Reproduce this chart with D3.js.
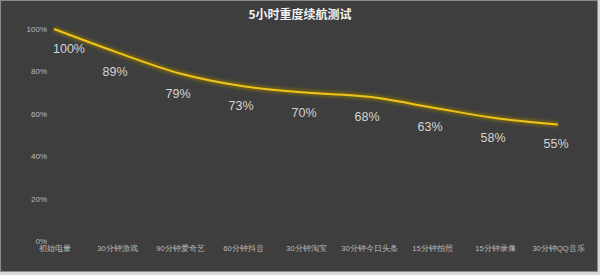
<!DOCTYPE html>
<html>
  <head>
    <meta charset="utf-8">
    <title>5小时重度续航测试</title>
    <script src="https://d3js.org/d3.v7.min.js"></script>
    <style>
      body { margin: 0; background: #d8d8d8; }
      svg { display: block; font-family: "Noto Sans CJK SC", "Liberation Sans", sans-serif; }
    </style>
  </head>
  <body>
    <svg id="chart" width="600" height="275"></svg>
    <script>
      // data
      var categories = ["初始电量", "30分钟游戏", "90分钟爱奇艺", "60分钟抖音", "30分钟淘宝",
                        "30分钟今日头条", "15分钟拍照", "15分钟录像", "30分钟QQ音乐"];
      var battery = [100, 89, 79, 73, 70, 68, 63, 58, 55];
      var yTicks = [0, 20, 40, 60, 80, 100];
      var title = "5小时重度续航测试";

      var width = 600, height = 275;
      var svg = d3.select("#chart");

      // panel
      svg.append("rect")
        .attr("x", 0.5).attr("y", 0.5)
        .attr("width", width - 3).attr("height", height - 4)
        .attr("fill", "#3e3e3e")
        .attr("stroke", "#8a8a8a");

      var defs = svg.append("defs");
      var glow = defs.append("filter").attr("id", "glow")
        .attr("x", "-5%").attr("y", "-30%").attr("width", "110%").attr("height", "160%");
      glow.append("feGaussianBlur").attr("in", "SourceGraphic").attr("stdDeviation", 1.8);

      var x = d3.scalePoint().domain(categories).range([54, 558]);
      var y = d3.scaleLinear().domain([0, 100]).range([241, 29]);

      svg.append("text")
        .attr("x", 300).attr("y", 19)
        .attr("text-anchor", "middle")
        .attr("fill", "#f2f2f2")
        .attr("font-size", 12)
        .attr("font-weight", "bold")
        .text(title);

      // y axis (labels only)
      var yAxis = svg.append("g")
        .attr("transform", "translate(47,0)")
        .call(d3.axisLeft(y).tickValues(yTicks).tickFormat(d => d + "%").tickSize(0).tickPadding(0));
      yAxis.select(".domain").remove();
      yAxis.selectAll("text")
        .attr("fill", "#bdbdbd")
        .attr("font-size", 8)
        .attr("font-family", "Liberation Sans, sans-serif");

      // x axis (labels only)
      var xAxis = svg.append("g")
        .attr("transform", "translate(0,244)")
        .call(d3.axisBottom(x).tickSize(0).tickPadding(2));
      xAxis.select(".domain").remove();
      xAxis.selectAll("text")
        .attr("fill", "#bdbdbd")
        .attr("font-size", 7.6);

      var line = d3.line()
        .x((d, i) => x(categories[i]))
        .y(d => y(d))
        .curve(d3.curveMonotoneX);

      svg.append("path")
        .datum(battery)
        .attr("d", line)
        .attr("fill", "none")
        .attr("stroke", "#8c7600")
        .attr("stroke-width", 6)
        .attr("stroke-opacity", 0.6)
        .attr("filter", "url(#glow)");

      svg.append("path")
        .datum(battery)
        .attr("d", line)
        .attr("fill", "none")
        .attr("stroke", "#f0c41c")
        .attr("stroke-width", 2);

      // value labels
      svg.append("g")
        .selectAll("text")
        .data(battery)
        .join("text")
        .attr("y", d => y(d) + 24)
        .attr("text-anchor", "middle")
        .attr("fill", "#d4d4d4")
        .attr("font-size", 12.5)
        .attr("font-family", "Liberation Sans, sans-serif")
        .text(d => d + "%")
        .attr("x", function (d, i) {
          var w = this.getComputedTextLength();
          return Math.max(x(categories[i]) - 2, 53 + w / 2);
        });
    </script>
  </body>
</html>
